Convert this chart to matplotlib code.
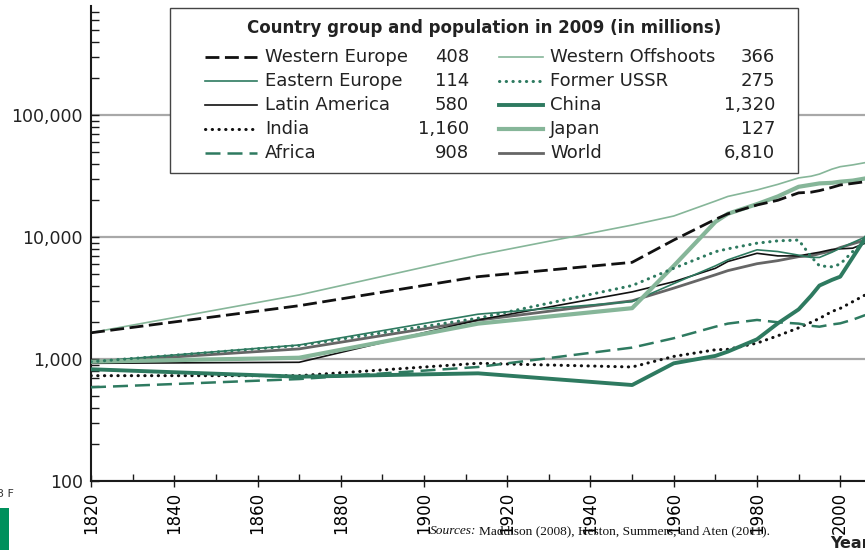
import matplotlib
matplotlib.use("Agg")
import matplotlib.pyplot as plt
from matplotlib.lines import Line2D
from matplotlib.patches import Rectangle
from matplotlib.ticker import FixedLocator, FuncFormatter, LogLocator, MultipleLocator, NullFormatter

# GDP per capita by country group (log scale)
years = [1820, 1870, 1913, 1950, 1960, 1970, 1973, 1980, 1985, 1990, 1993, 1995, 1998, 2000, 2003, 2006]

western_europe = [1640, 2735, 4730, 6200, 9440, 13960, 15500, 18300, 20000, 23000, 23300, 24000, 25500, 26700, 27500, 28400]
eastern_europe = [950, 1303, 2330, 2950, 4150, 5800, 6500, 7850, 7600, 7100, 6800, 6800, 7500, 8100, 9000, 10000]
latin_america = [922, 940, 2090, 3550, 4300, 5540, 6300, 7350, 7000, 7000, 7300, 7500, 7900, 8000, 8100, 8900]
india = [730, 730, 922, 860, 1050, 1190, 1200, 1350, 1550, 1800, 2000, 2150, 2450, 2600, 2950, 3350]
africa = [586, 685, 860, 1240, 1480, 1840, 1950, 2090, 2000, 1950, 1870, 1840, 1920, 1960, 2100, 2290]
western_offshoots = [1645, 3350, 7110, 12530, 14860, 19700, 21500, 24300, 27000, 30500, 31500, 32800, 36000, 37700, 39000, 40700]
former_ussr = [950, 1290, 2160, 4000, 5540, 7580, 8000, 8900, 9300, 9440, 6900, 5800, 5700, 6000, 7600, 9200]
china = [824, 716, 763, 612, 922, 1060, 1150, 1450, 1960, 2550, 3300, 4000, 4450, 4730, 6800, 9800]
japan = [950, 1024, 1950, 2610, 5800, 13300, 15500, 18600, 21500, 25800, 26800, 27500, 27800, 28400, 29000, 30200]
world = [940, 1210, 2080, 3000, 3810, 4900, 5300, 6040, 6400, 6900, 7000, 7300, 7700, 8200, 8800, 9440]

groups = ["Western Europe", "Eastern Europe", "Latin America", "India", "Africa",
          "Western Offshoots", "Former USSR", "China", "Japan", "World"]
population_2009 = ["408", "114", "580", "1,160", "908", "366", "275", "1,320", "127", "6,810"]
series = [western_europe, eastern_europe, latin_america, india, africa,
          western_offshoots, former_ussr, china, japan, world]

dark_green = "#2e7a60"
light_green = "#86b699"
styles = {
    "Western Europe": dict(color="#111111", lw=2.0, dashes=(5, 2), z=7),
    "Eastern Europe": dict(color=dark_green, lw=1.2, z=4),
    "Latin America": dict(color="#111111", lw=1.2, z=3),
    "India": dict(color="#111111", lw=2.2, dashes=(0.1, 2.1), z=8),
    "Africa": dict(color=dark_green, lw=1.8, dashes=(6, 2.8), z=8),
    "Western Offshoots": dict(color=light_green, lw=1.2, z=5),
    "Former USSR": dict(color=dark_green, lw=2.2, dashes=(0.1, 2.1), z=6),
    "China": dict(color=dark_green, lw=2.8, z=9),
    "Japan": dict(color=light_green, lw=3.0, z=4),
    "World": dict(color="#666666", lw=2.0, z=2),
}

W, H = 865, 550
plt.rcParams['font.family'] = ['DejaVu Sans']
narrow = ["Liberation Sans Narrow", "DejaVu Sans Condensed", "DejaVu Sans"]


def fx(px):
    return px / W


def fy(py):
    return 1 - py / H


def styled_line(xs, ys, name, **kw):
    st = styles[name]
    ln = Line2D(xs, ys, color=st["color"], lw=st["lw"], zorder=st["z"], **kw)
    if "dashes" in st:
        ln.set_dashes(st["dashes"])
        if st["dashes"][0] < 1:
            ln.set_dash_capstyle("round")
    ln.set_solid_joinstyle("round")
    return ln


fig = plt.figure(figsize=(W / 100, H / 100), dpi=100)
ax = fig.add_axes([fx(91), fy(481), fx(865) - fx(91), fy(6) - fy(481)])

for name, vals in zip(groups, series):
    ax.add_line(styled_line(years, vals, name))

ax.set_yscale("log")
ax.set_xlim(1820, 1820 + (865 - 91) / 4.1625)
ax.set_ylim(100, 10 ** (2 + 475 / 122))

ax.yaxis.set_major_locator(FixedLocator([100, 1000, 10000, 100000]))
ax.yaxis.set_major_formatter(FuncFormatter(lambda v, p: f"{v:,.0f}"))
ax.yaxis.set_minor_locator(LogLocator(base=10, subs=range(2, 10)))
ax.yaxis.set_minor_formatter(NullFormatter())
ax.xaxis.set_major_locator(MultipleLocator(20))
ax.xaxis.set_minor_locator(MultipleLocator(10))

ax.grid(axis="y", which="major", color="#a8a8a8", lw=1.6, zorder=0)
ax.set_axisbelow(True)

for s in ["top", "right"]:
    ax.spines[s].set_visible(False)
for s in ["left", "bottom"]:
    ax.spines[s].set_linewidth(1.5)
    ax.spines[s].set_color("#1a1a1a")

ax.tick_params(axis="y", which="both", direction="in", length=6, width=1, color="#1a1a1a",
               labelsize=12.5, pad=6)
ax.tick_params(axis="x", which="major", direction="inout", length=9, width=1, color="#1a1a1a", pad=3)
ax.tick_params(axis="x", which="minor", direction="in", length=5, width=1, color="#1a1a1a")
for lab in ax.get_xticklabels():
    lab.set_rotation(90)
    lab.set_family(narrow)
    lab.set_fontsize(12)
for lab in ax.get_yticklabels():
    lab.set_color("#222222")

# legend box drawn by hand so the population numbers line up
fig.add_artist(Rectangle((fx(170), fy(173)), fx(798) - fx(170), fy(8) - fy(173),
                         transform=fig.transFigure, facecolor="white", edgecolor="#444444",
                         lw=1.0, zorder=10))
fig.text(fx(484), fy(28), "Country group and population in 2009 (in millions)",
         ha="center", va="center", fontsize=12, fontweight="bold", color="#222222", zorder=11)

row_y = [57, 81, 105, 129, 153]
cols = [(205, 257, 265, 469), (499, 543, 550, 775)]
for i, (name, pop) in enumerate(zip(groups, population_2009)):
    c = cols[i // 5]
    y = row_y[i % 5]
    ln = styled_line([fx(c[0]), fx(c[1])], [fy(y), fy(y)], name, transform=fig.transFigure)
    ln.set_zorder(11)
    fig.add_artist(ln)
    fig.text(fx(c[2]), fy(y), name, ha="left", va="center", fontsize=13, color="#222222", zorder=11)
    fig.text(fx(c[3]), fy(y), pop, ha="right", va="center", fontsize=13, color="#222222", zorder=11)

fig.text(fx(830), fy(543), "Year", ha="left", va="center", fontsize=11.5, fontweight="bold", color="#222222")

# source line: italic lead-in, roman rest
src1 = fig.text(fx(430), fy(531), "Sources:", ha="left", va="center", fontsize=9.6,
                family="Liberation Serif", style="italic", color="#111111", zorder=12)
fig.canvas.draw()
bb = src1.get_window_extent()
fig.text(bb.x1 / W + 0.003, fy(531), "Maddison (2008), Heston, Summers, and Aten (2011).",
         ha="left", va="center", fontsize=9.6, family="Liberation Serif", color="#111111", zorder=12)

# page bits at the left margin of the scan
fig.add_artist(Rectangle((0, 0), fx(9), fy(508), transform=fig.transFigure,
                         facecolor="#00905c", edgecolor="none", zorder=12))
fig.text(fx(-3), fy(494), "3 F", ha="left", va="center", fontsize=8, color="#333333")

fig.savefig("out.png", dpi=100)
